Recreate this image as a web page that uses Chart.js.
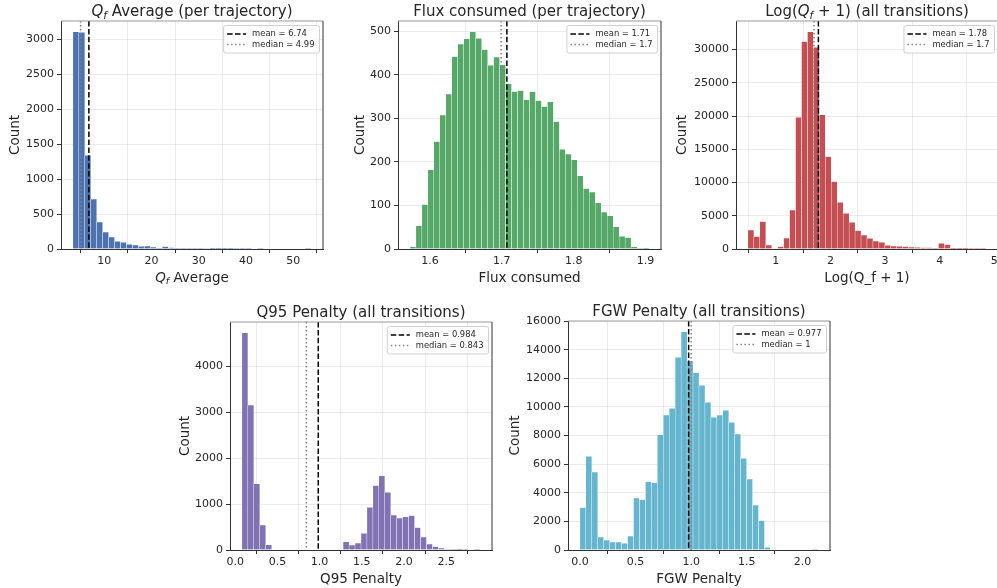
<!DOCTYPE html>
<html>
<head>
<meta charset="utf-8">
<script src="https://cdn.jsdelivr.net/npm/chart.js@4.4.0/dist/chart.umd.min.js"></script>
<style>
  html, body { margin: 0; padding: 0; background: #fff; width: 997px; height: 588px; overflow: hidden; position: relative; }
  .panel { position: absolute; }
</style>
</head>
<body>
<div class="panel" id="p1"><canvas id="c1"></canvas></div>
<div class="panel" id="p2"><canvas id="c2"></canvas></div>
<div class="panel" id="p3"><canvas id="c3"></canvas></div>
<div class="panel" id="p4"><canvas id="c4"></canvas></div>
<div class="panel" id="p5"><canvas id="c5"></canvas></div>
<script>
// histogram counts (40 bins each), bin range [lo, hi], stats [mean, median]
var qfAvgCounts = [3110, 3105, 1342, 716, 387, 244, 172, 110, 96, 67, 57, 38, 43, 29, 14, 33, 19, 14, 12, 10,
                   10, 9, 8, 5, 3, 2, 2, 1, 1, 1, 0, 1, 0, 0, 0, 0, 0, 0, 0, 1];
var qfAvgRange = [3.36, 53.76];
var qfAvgStats = [6.74, 4.99];
var qfAvgXTicks = ["10", "20", "30", "40", "50"];
var qfAvgYTicks = ["0", "500", "1000", "1500", "2000", "2500", "3000"];

var fluxCounts = [5, 53, 102, 182, 247, 308, 356, 442, 471, 483, 499, 484, 458, 422, 441, 423, 380, 362, 364, 343,
                  362, 341, 327, 338, 293, 229, 218, 205, 168, 139, 131, 106, 85, 76, 51, 29, 26, 5, 2, 1];
var fluxRange = [1.572, 1.905];
var fluxStats = [1.707, 1.699];
var fluxXTicks = ["1.6", "1.7", "1.8", "1.9"];
var fluxYTicks = ["0", "100", "200", "300", "400", "500"];

var logQfCounts = [2860, 1857, 4115, 602, 0, 351, 1656, 5870, 19820, 31210, 32670, 30360, 20170, 13900, 10140, 7025, 5370, 4015, 2760, 2107,
                   1606, 1204, 1004, 552, 452, 401, 351, 301, 251, 200, 200, 150, 853, 652, 50, 40, 30, 20, 10, 5];
var logQfRange = [0.49, 4.85];
var logQfStats = [1.78, 1.70];
var logQfXTicks = ["1", "2", "3", "4", "5"];
var logQfYTicks = ["0", "5000", "10000", "15000", "20000", "25000", "30000"];

var q95Counts = [4721, 3150, 1441, 541, 115, 0, 0, 0, 0, 0, 0, 0, 0, 0, 0, 0, 0, 180, 108, 151,
                 360, 930, 1398, 1614, 1254, 757, 692, 721, 750, 490, 281, 130, 72, 43, 10, 3, 2, 1, 0, 1];
var q95Range = [0.08, 2.90];
var q95Stats = [0.984, 0.843];
var q95XTicks = ["0.0", "0.5", "1.0", "1.5", "2.0", "2.5"];
var q95YTicks = ["0", "1000", "2000", "3000", "4000"];

var fgwCounts = [2957, 6542, 5448, 908, 698, 559, 559, 466, 978, 3632, 3516, 4773, 4703, 8056, 9430, 9895, 13457, 15240, 13201, 12386,
                 11502, 10314, 9266, 9430, 9756, 8917, 8102, 6403, 4959, 3143, 2049, 186, 0, 0, 0, 0, 0, 0, 0, 2];
var fgwRange = [0.0, 2.14];
var fgwStats = [0.977, 1.0];
var fgwXTicks = ["0.0", "0.5", "1.0", "1.5", "2.0"];
var fgwYTicks = ["0", "2000", "4000", "6000", "8000", "10000", "12000", "14000", "16000"];

var FONT = "DejaVu Sans";
var TXT = "#262626";
var YAXIS_W = 70;

// draws text made of parts: "" normal, "i" italic, "s" italic subscript
function richText(ctx, parts, cx, y, size) {
  function fontFor(st) {
    return (st ? "italic " : "") + (st === "s" ? size * 0.7 : size) + "px '" + FONT + "'";
  }
  var total = 0;
  parts.forEach(function (p) { ctx.font = fontFor(p[1]); total += ctx.measureText(p[0]).width; });
  var x = cx - total / 2;
  ctx.textAlign = "left";
  ctx.textBaseline = "alphabetic";
  ctx.fillStyle = TXT;
  parts.forEach(function (p) {
    ctx.font = fontFor(p[1]);
    ctx.fillText(p[0], x, y + (p[1] === "s" ? size * 0.22 : 0));
    x += ctx.measureText(p[0]).width;
  });
}

function g3(v) { return String(parseFloat(v.toPrecision(3))); }

function makeOverlay(cfg) {
  return {
    id: "overlay",
    afterDatasetsDraw: function (chart) {
      var ctx = chart.ctx, a = chart.chartArea, x = chart.scales.x;
      ctx.save();
      ctx.beginPath();
      ctx.rect(a.left, a.top, a.width, a.height);
      ctx.clip();
      ctx.lineWidth = 1.5;
      // mean
      var xm = x.getPixelForValue(cfg.stats[0]);
      ctx.strokeStyle = "#000";
      ctx.setLineDash([5.5, 2.4]);
      ctx.beginPath(); ctx.moveTo(xm, a.top); ctx.lineTo(xm, a.bottom); ctx.stroke();
      // median
      var xd = x.getPixelForValue(cfg.stats[1]);
      ctx.strokeStyle = "#808080";
      ctx.setLineDash([1.5, 2.5]);
      ctx.beginPath(); ctx.moveTo(xd, a.top); ctx.lineTo(xd, a.bottom); ctx.stroke();
      ctx.restore();

      // legend box
      var labels = ["mean = " + g3(cfg.stats[0]), "median = " + g3(cfg.stats[1])];
      ctx.save();
      ctx.font = "8.4px '" + FONT + "'";
      var tw = Math.max(ctx.measureText(labels[0]).width, ctx.measureText(labels[1]).width);
      var bw = 29 + tw + 4.5, bh = 27.5;
      var bx = a.right - 4 - bw, by = a.top + 4;
      ctx.fillStyle = "rgba(255,255,255,0.85)";
      ctx.strokeStyle = "#d0d0d0";
      ctx.lineWidth = 1;
      ctx.beginPath();
      ctx.roundRect(bx + 0.5, by + 0.5, bw, bh, 2);
      ctx.fill(); ctx.stroke();
      var styles = [["#000", [5.5, 2.4]], ["#808080", [1.5, 2.5]]];
      for (var i = 0; i < 2; i++) {
        var ly = by + 9 + i * 10.5;
        ctx.strokeStyle = styles[i][0];
        ctx.setLineDash(styles[i][1]);
        ctx.lineWidth = 1.5;
        ctx.beginPath(); ctx.moveTo(bx + 4, ly); ctx.lineTo(bx + 23, ly); ctx.stroke();
        ctx.fillStyle = TXT;
        ctx.textBaseline = "middle";
        ctx.textAlign = "left";
        ctx.fillText(labels[i], bx + 29, ly);
      }
      ctx.restore();
    },
    afterDraw: function (chart) {
      var ctx = chart.ctx, a = chart.chartArea;
      ctx.save();
      ctx.lineWidth = 1;
      ctx.strokeStyle = "#999";
      ctx.beginPath(); ctx.moveTo(a.left, a.top); ctx.lineTo(a.right, a.top); ctx.stroke();
      ctx.strokeStyle = "#333";
      ctx.beginPath(); ctx.moveTo(a.right, a.top); ctx.lineTo(a.right, a.bottom); ctx.stroke();
      ctx.restore();
      richText(ctx, cfg.title, (a.left + a.right) / 2, a.top - 5, 15);
      richText(ctx, cfg.xlabel, (a.left + a.right) / 2, a.bottom + 32.5, 13.5);
    }
  };
}

function makeHist(cfg) {
  var n = cfg.counts.length;
  var lo = cfg.range[0], hi = cfg.range[1];
  var w = (hi - lo) / n;
  var pts = cfg.counts.map(function (c, i) { return { x: lo + (i + 0.5) * w, y: c }; });
  var pad = (hi - lo) * 0.05;
  var ymax = Math.max.apply(null, cfg.counts) * 1.05;

  var box = document.getElementById(cfg.box);
  box.style.left = (cfg.L - YAXIS_W) + "px";
  box.style.top = (cfg.T - 21) + "px";
  var cw = YAXIS_W + cfg.W + 7, chh = 21 + cfg.H + 41;
  var canvas = document.getElementById(cfg.canvas);
  canvas.width = cw; canvas.height = chh;
  canvas.style.width = cw + "px"; canvas.style.height = chh + "px";

  // distance of the "Count" label centre from the left spine
  var labPad = YAXIS_W - cfg.ylabOff - 8.1;

  var tickFont = { family: FONT, size: 11 };
  new Chart(canvas, {
    type: "bar",
    data: {
      datasets: [{
        data: pts,
        backgroundColor: cfg.color,
        borderColor: "rgba(255,255,255,0.8)",
        borderWidth: { left: 0.5, right: 0.5, top: 0.5, bottom: 0 },
        borderSkipped: false,
        barPercentage: 1,
        categoryPercentage: 1
      }]
    },
    options: {
      responsive: false,
      animation: false,
      devicePixelRatio: 1,
      layout: { padding: { top: 21, right: 7, left: 0, bottom: 0 } },
      plugins: { legend: { display: false }, tooltip: { enabled: false } },
      scales: {
        x: {
          type: "linear",
          min: lo - pad,
          max: hi + pad,
          offset: false,
          afterBuildTicks: function (s) { s.ticks = cfg.xTicks.map(function (t) { return { value: parseFloat(t) }; }); },
          afterFit: function (s) { s.height = 41; },
          ticks: {
            autoSkip: false, maxRotation: 0, padding: 2, color: TXT, font: tickFont,
            callback: function (v, i) { return cfg.xTicks[i]; }
          },
          grid: { color: "rgba(0,0,0,0.08)", tickColor: "#333", tickLength: 4 },
          border: { color: "#333" }
        },
        y: {
          min: 0,
          max: ymax,
          afterBuildTicks: function (s) { s.ticks = cfg.yTicks.map(function (t) { return { value: parseFloat(t) }; }); },
          afterFit: function (s) { s.width = YAXIS_W; },
          ticks: {
            padding: 3, color: TXT, font: tickFont,
            callback: function (v, i) { return cfg.yTicks[i]; }
          },
          grid: { color: "rgba(0,0,0,0.08)", tickColor: "#333", tickLength: 4 },
          border: { color: "#333" },
          title: { display: true, text: "Count", color: TXT, font: { family: FONT, size: 13.5 }, padding: { top: labPad, bottom: 0 } }
        }
      }
    },
    plugins: [makeOverlay(cfg)]
  });
}

makeHist({
  box: "p1", canvas: "c1", L: 61, T: 21, W: 262, H: 228, ylabOff: 46, color: "#4c72b0",
  counts: qfAvgCounts, range: qfAvgRange, stats: qfAvgStats, xTicks: qfAvgXTicks, yTicks: qfAvgYTicks,
  title: [["Q", "i"], ["f", "s"], [" Average (per trajectory)", ""]],
  xlabel: [["Q", "i"], ["f", "s"], [" Average", ""]]
});
makeHist({
  box: "p2", canvas: "c2", L: 398, T: 21, W: 263, H: 228, ylabOff: 38, color: "#55a868",
  counts: fluxCounts, range: fluxRange, stats: fluxStats, xTicks: fluxXTicks, yTicks: fluxYTicks,
  title: [["Flux consumed (per trajectory)", ""]],
  xlabel: [["Flux consumed", ""]]
});
makeHist({
  box: "p3", canvas: "c3", L: 736, T: 21, W: 262, H: 228, ylabOff: 54, color: "#c44e52",
  counts: logQfCounts, range: logQfRange, stats: logQfStats, xTicks: logQfXTicks, yTicks: logQfYTicks,
  title: [["Log(", ""], ["Q", "i"], ["f", "s"], [" + 1) (all transitions)", ""]],
  xlabel: [["Log(Q_f + 1)", ""]]
});
makeHist({
  box: "p4", canvas: "c4", L: 230, T: 322, W: 262, H: 228, ylabOff: 45, color: "#8172b3",
  counts: q95Counts, range: q95Range, stats: q95Stats, xTicks: q95XTicks, yTicks: q95YTicks,
  title: [["Q95 Penalty (all transitions)", ""]],
  xlabel: [["Q95 Penalty", ""]]
});
makeHist({
  box: "p5", canvas: "c5", L: 568, T: 321, W: 262, H: 229, ylabOff: 53, color: "#64b5cd",
  counts: fgwCounts, range: fgwRange, stats: fgwStats, xTicks: fgwXTicks, yTicks: fgwYTicks,
  title: [["FGW Penalty (all transitions)", ""]],
  xlabel: [["FGW Penalty", ""]]
});
</script>
</body>
</html>
